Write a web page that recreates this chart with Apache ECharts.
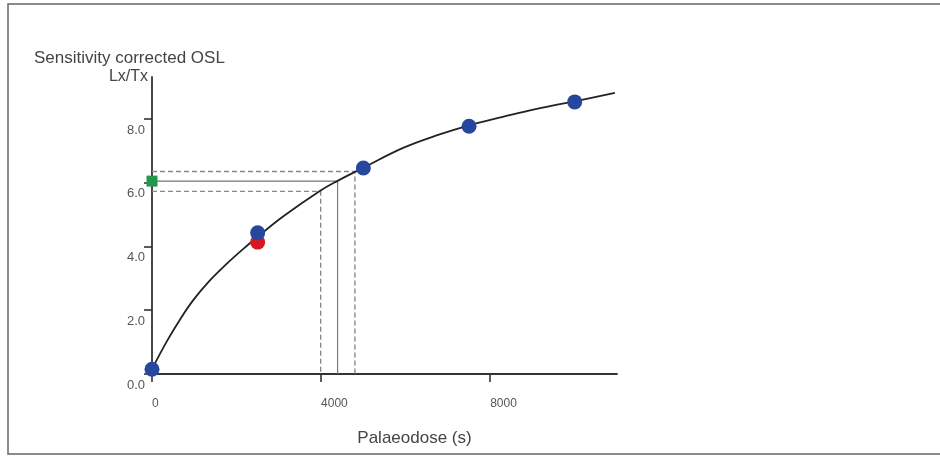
<!DOCTYPE html>
<html>
<head>
<meta charset="utf-8">
<script src="https://cdn.jsdelivr.net/npm/echarts@6/dist/echarts.min.js"></script>
<style>html,body{margin:0;padding:0;background:#fff}#chart{width:940px;height:456px}</style>
</head>
<body>
<div id="chart"></div>
<script>
// Dose-response (growth) curve
const curveDose = [0, 350, 660, 980, 1370, 1765, 2160, 2550, 3100, 3970, 4380, 5000, 5940, 6730, 7480, 8300, 9100, 9960, 10950];
const curveLxTx = [0.15, 1.02, 1.70, 2.32, 2.93, 3.45, 3.92, 4.35, 4.93, 5.73, 6.04, 6.46, 7.08, 7.47, 7.78, 8.05, 8.30, 8.53, 8.80];
// Regenerative dose points (blue)
const regenDose = [0, 2500, 5000, 7500, 10000];
const regenLxTx = [0.15, 4.42, 6.45, 7.76, 8.52];
// Recycled point (red)
const recycleDose = [2500];
const recycleLxTx = [4.13];
// Natural signal (green) and interpolated palaeodose: low / central / high
const naturalLxTx = [5.72, 6.04, 6.34];
const palaeodose = [3990, 4390, 4800];
// Axis ticks
const xTicks = [0, 4000, 8000];
const yTicks = [0, 2, 4, 6, 8];

const chart = echarts.init(document.getElementById('chart'), null, {renderer: 'canvas'});
const font = '"Liberation Sans", Arial, sans-serif';

const refSeries = naturalLxTx.map((y, i) => ({
  type: 'line',
  data: [[0, y], [palaeodose[i], y], [palaeodose[i], 0]],
  symbol: 'none',
  silent: true,
  z: 1,
  lineStyle: {
    color: i === 1 ? '#777' : '#888',
    width: i === 1 ? 1.2 : 1.4,
    type: i === 1 ? 'solid' : [5, 3]
  }
}));

chart.setOption({
  animation: false,
  textStyle: {fontFamily: font},
  title: {
    text: 'Sensitivity corrected OSL',
    left: 29, top: 45,
    textStyle: {fontFamily: font, fontSize: 17, fontWeight: 'normal', color: '#444'}
  },
  graphic: [{
    type: 'rect',
    shape: {x: 8, y: 4, width: 960, height: 450},
    style: {fill: 'none', stroke: '#666', lineWidth: 1.5},
    silent: true
  }],
  grid: {left: 152, right: 323, top: 77, bottom: 82},
  xAxis: {
    type: 'value',
    min: 0, max: 11000,
    name: 'Palaeodose (s)',
    nameLocation: 'middle',
    nameGap: 56,
    nameTextStyle: {fontSize: 17, color: '#444', padding: [0, 0, 0, 60]},
    axisLine: {show: true, onZero: false, lineStyle: {color: '#333', width: 1.8}},
    axisTick: {show: true, length: 8, customValues: xTicks, lineStyle: {color: '#333', width: 1.6}},
    axisLabel: {customValues: xTicks, formatter: v => String(v), align: 'left', margin: 24, fontSize: 12, color: '#555'},
    splitLine: {show: false}
  },
  yAxis: {
    type: 'value',
    min: 0, max: 9.3,
    name: 'Lx/Tx',
    nameLocation: 'end',
    nameGap: 0,
    nameTextStyle: {fontSize: 16, color: '#444', align: 'right', verticalAlign: 'middle', padding: [0, 4, 0, 0]},
    axisLine: {show: true, onZero: false, lineStyle: {color: '#333', width: 1.8}},
    axisTick: {show: true, length: 8, customValues: yTicks, lineStyle: {color: '#333', width: 1.6}},
    axisLabel: {customValues: yTicks, formatter: v => v.toFixed(1), margin: 7, fontSize: 13, color: '#555',
      verticalAlign: 'top', padding: [5, 0, 0, 0]},
    splitLine: {show: false}
  },
  series: [
    ...refSeries,
    {
      type: 'line',
      data: curveDose.map((d, i) => [d, curveLxTx[i]]),
      smooth: 0.4,
      symbol: 'none',
      z: 2,
      lineStyle: {color: '#222', width: 1.8}
    },
    {
      type: 'scatter',
      data: recycleDose.map((d, i) => [d, recycleLxTx[i]]),
      symbol: 'circle', symbolSize: 15,
      clip: false,
      z: 3,
      itemStyle: {color: '#d7191f', opacity: 1}
    },
    {
      type: 'scatter',
      data: regenDose.map((d, i) => [d, regenLxTx[i]]),
      symbol: 'circle', symbolSize: 15,
      clip: false,
      z: 4,
      itemStyle: {color: '#27469e', opacity: 1}
    },
    {
      type: 'scatter',
      data: [[0, naturalLxTx[1]]],
      symbol: 'rect', symbolSize: 11,
      clip: false,
      z: 5,
      itemStyle: {color: '#23994a', opacity: 1}
    }
  ]
});
</script>
</body>
</html>
